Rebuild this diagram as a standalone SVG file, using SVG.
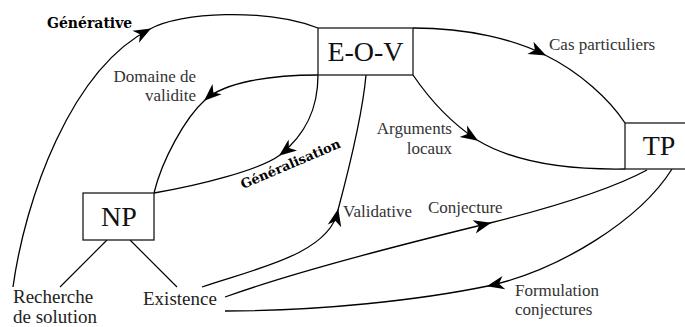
<svg xmlns="http://www.w3.org/2000/svg" width="685" height="327" viewBox="0 0 685 327">
<style>
.box{fill:#fff;stroke:#1a1a1a;stroke-width:1.3}
.node{font-size:28px;fill:#111;text-anchor:middle}
.lab{font-size:17px;fill:#333}
.big{font-size:19px;fill:#222}
.bold{font-weight:bold;fill:#000}
.c{fill:none;stroke:#000;stroke-width:1.3;marker-mid:url(#ah)}
.l{fill:none;stroke:#000;stroke-width:1.2}
</style>
<defs>
<marker id="ah" markerUnits="userSpaceOnUse" markerWidth="20" markerHeight="20" viewBox="-14 -7 16 14" refX="0" refY="0" orient="auto">
<path d="M1,0 L-13,-5.5 L-9,0 L-13,5.5 Z" fill="#000"/>
</marker>
</defs>
<rect width="685" height="327" fill="#fff"/>
<g id="connectors">
<path class="c" d="M13,287 C25,200 70,70 150,29 C180,12 265,8 318,28"/>
<path class="c" d="M318,75 C270,75 225,82 205,100 C185,118 162,160 154,193"/>
<path class="c" d="M318,75 C318,110 305,135 280,155 C260,170 200,185 154,193"/>
<path class="c" d="M202,287 C250,270 330,255 338,210 C346,180 362,120 366,75"/>
<path class="c" d="M413,28 C470,28 515,40 545,55 C580,72 610,100 625,123"/>
<path class="c" d="M413,75 C430,100 450,122 477,140 C510,160 560,170 625,169"/>
<path class="c" d="M225,297 C300,270 420,240 490,223 C550,208 610,190 647,170"/>
<path class="c" d="M672,169 C640,220 560,270 488,286 C420,300 320,311 225,311"/>
<path class="l" d="M107,240 L60,287 M130,240 L177,287"/>
</g>
<g font-family="Liberation Serif, DejaVu Serif, Times New Roman, serif">
<g id="eov">
<rect class="box" x="318" y="28" width="95" height="47"/>
<text class="node" x="365.5" y="61">E-O-V</text>
</g>
<g id="tp">
<rect class="box" x="625" y="123" width="70" height="46"/>
<text class="node" x="659" y="155">TP</text>
</g>
<g id="np">
<rect class="box" x="83" y="193" width="71" height="47"/>
<text class="node" x="119" y="226">NP</text>
</g>
<g id="recherche">
<text class="big" x="13" y="303">Recherche</text>
<text class="big" x="13" y="323">de solution</text>
</g>
<g id="existence">
<text class="big" x="143" y="305">Existence</text>
</g>
<g id="labels">
<text class="bold" font-family="DejaVu Serif, serif" x="47" y="28" font-size="14">Générative</text>
<text class="bold" font-family="DejaVu Serif, serif" font-size="13" transform="translate(243,189) rotate(-23)">Généralisation</text>
<text class="lab" x="196" y="82" text-anchor="end">Domaine de</text>
<text class="lab" x="196" y="101" text-anchor="end">validite</text>
<text class="lab" x="549" y="50">Cas particuliers</text>
<text class="lab" x="452" y="134" text-anchor="end">Arguments</text>
<text class="lab" x="452" y="154" text-anchor="end">locaux</text>
<text class="lab" x="343" y="217">Validative</text>
<text class="lab" x="428" y="213">Conjecture</text>
<text class="lab" x="515" y="296">Formulation</text>
<text class="lab" x="515" y="315">conjectures</text>
</g>
</g>
</svg>
